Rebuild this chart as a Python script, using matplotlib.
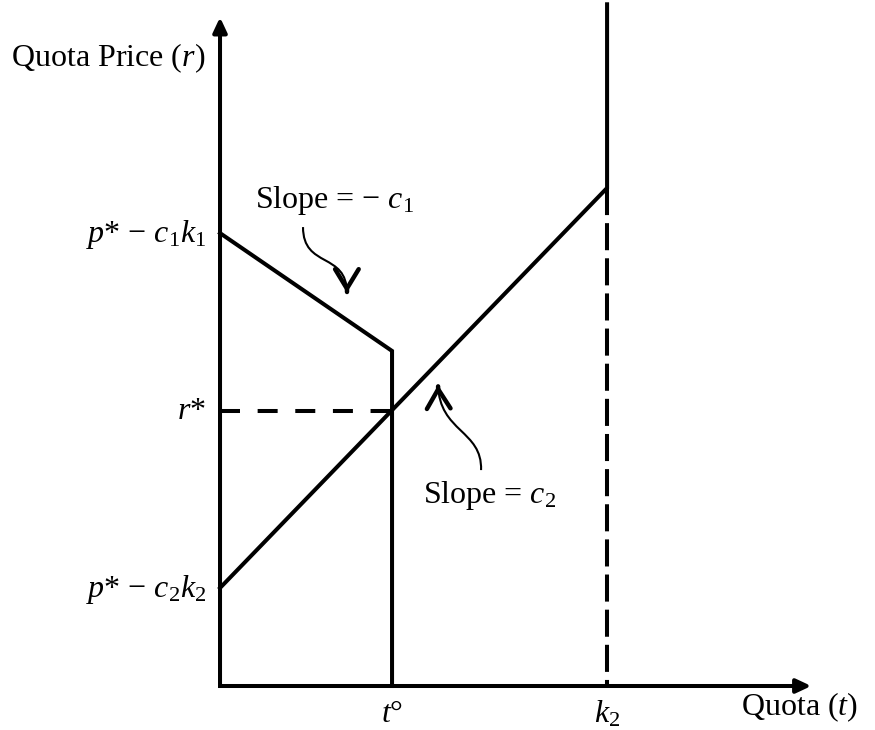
import matplotlib
matplotlib.use("Agg")
import matplotlib.pyplot as plt
from matplotlib.patches import FancyArrowPatch, PathPatch
from matplotlib.path import Path

plt.rcParams["font.family"] = "Liberation Serif"
plt.rcParams["mathtext.fontset"] = "custom"
plt.rcParams["mathtext.rm"] = "Liberation Serif"
plt.rcParams["mathtext.it"] = "Liberation Serif:italic"
plt.rcParams["lines.scale_dashes"] = False

# points on the quota axis
t_o = 4.0
k2 = 9.0
t_end = 13.75
r_end = 15.55

# quota demand (slope -c1, capped at t°) and supply (slope c2, vertical at k2)
demand_t = [0.0, t_o, t_o]
demand_r = [10.53, 7.79, 0.0]
supply_t = [0.0, k2, k2]
supply_r = [2.28, 11.58, 15.85]
r_star = 6.4

ytick_vals = [10.53, 6.4, 2.28]
ytick_labels = [r"$p$* − $c_1k_1$", r"$r$*", r"$p$* − $c_2k_2$"]
xtick_vals = [t_o, k2]
xtick_labels = [r"$t$°", r"$k_2$"]

LW = 2.9
FS = 23

fig = plt.figure(figsize=(8.75, 7.3), dpi=100)
ax = fig.add_axes([0, 0, 1, 1])
ax.set_xlim(-5.116, 15.23)
ax.set_ylim(-1.023, 15.95)
ax.axis("off")

# axes with arrowheads; start half a line width back so the corner is square
half = 0.046
for start, tip in [((0, -half), (0, r_end)), ((-half, 0), (t_end, 0))]:
    ax.annotate("", xy=tip, xytext=start,
                arrowprops=dict(arrowstyle="-|>,head_length=0.9,head_width=0.42",
                                mutation_scale=10, lw=LW, color="k",
                                shrinkA=0, shrinkB=0, capstyle="butt"))

ax.plot(demand_t, demand_r, color="k", lw=LW, solid_joinstyle="miter")
ax.plot(supply_t, supply_r, color="k", lw=LW, solid_joinstyle="miter")

# equilibrium price and capacity guides
ax.plot([0, t_o], [r_star, r_star], color="k", lw=LW, dashes=(14.4, 12.7))
ax.plot([k2, k2], [supply_r[1], 0], color="k", lw=LW, dashes=(19.5, 5.8))

# labels sit on their baselines, slightly below the level they mark
for v, lab in zip(ytick_vals, ytick_labels):
    ax.text(-0.33, v - 0.2, lab, ha="right", va="baseline", fontsize=FS)
for v, lab in zip(xtick_vals, xtick_labels):
    ax.text(v, -0.84, lab, ha="center", va="baseline", fontsize=FS)

ax.text(-0.35, 14.40, r"Quota Price ($r$)", ha="right", va="baseline", fontsize=FS)
ax.text(14.84, -0.67, r"Quota ($t$)", ha="right", va="baseline", fontsize=FS)

ax.text(0.81, 11.12, r"Slope = − $c_1$", ha="left", va="baseline", fontsize=FS)
ax.text(4.72, 4.26, r"Slope = $c_2$", ha="left", va="baseline", fontsize=FS)


def wiggle_arrow(p0, p1, p2, p3):
    shaft = Path([p0, p1, p2, p3], [Path.MOVETO, Path.CURVE4, Path.CURVE4, Path.CURVE4])
    ax.add_patch(PathPatch(shaft, fill=False, lw=1.5, color="k"))
    # short stub along the end tangent carries the open arrowhead
    stub = (p3[0] + 0.03 * (p2[0] - p3[0]), p3[1] + 0.03 * (p2[1] - p3[1]))
    head = FancyArrowPatch(path=Path([stub, p3]),
                           arrowstyle="->,head_length=1.4,head_width=0.85",
                           mutation_scale=10, lw=3.2, color="k")
    ax.add_patch(head)


wiggle_arrow((1.93, 10.67), (1.93, 9.7), (2.95, 10.1), (2.95, 9.14))
wiggle_arrow((6.07, 5.02), (6.1, 5.95), (5.1, 5.9), (5.07, 7.0))

fig.savefig("out.png", dpi=100)
